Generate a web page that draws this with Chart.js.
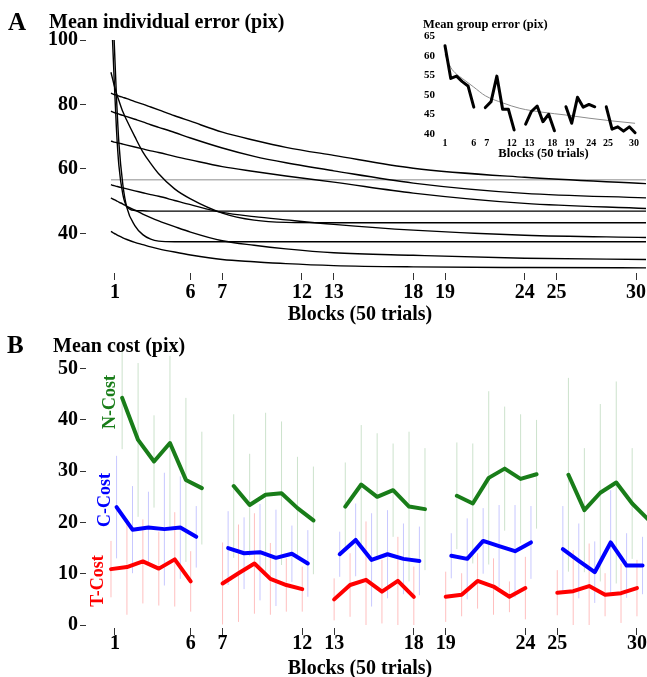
<!DOCTYPE html>
<html>
<head>
<meta charset="utf-8">
<script src="https://cdn.jsdelivr.net/npm/chart.js@4.4.0/dist/chart.umd.min.js"></script>
<style>
  html, body { margin: 0; padding: 0; background: #fff; overflow: hidden; }
  #page { position: relative; width: 647px; height: 677px; overflow: hidden;
          font-family: 'Liberation Serif', 'Times New Roman', serif; font-weight: bold; color: #000; }
  canvas { position: absolute; }
  .txt { position: absolute; line-height: 1; white-space: nowrap; }
  .mid { transform: translateX(-50%); }
  .rot { position: absolute; line-height: 1; white-space: nowrap; font-size: 18px;
         transform: translate(-50%, -50%) rotate(-90deg); }
</style>
</head>
<body>
<div id="page">
  <canvas id="panelA" width="647" height="325" style="left:0;top:0"></canvas>
  <canvas id="inset" width="227" height="161" style="left:420px;top:0"></canvas>
  <canvas id="panelB" width="647" height="347" style="left:0;top:330px"></canvas>

  <div class="txt" style="left:8px;top:9px;font-size:25px">A</div>
  <div class="txt" style="left:49px;top:11px;font-size:20px">Mean individual error (pix)</div>
  <div class="txt" style="left:423px;top:18px;font-size:12.5px">Mean group error (pix)</div>
  <div class="txt mid" style="left:360px;top:303px;font-size:20px">Blocks (50 trials)</div>
  <div class="txt" style="left:7px;top:332px;font-size:25px">B</div>
  <div class="txt" style="left:53px;top:335px;font-size:20px">Mean cost (pix)</div>
  <div class="txt mid" style="left:360px;top:657px;font-size:20px">Blocks (50 trials)</div>
  <div class="rot" style="left:109px;top:402px;color:rgb(25,125,25)">N-Cost</div>
  <div class="rot" style="left:104px;top:500px;color:#0000ff">C-Cost</div>
  <div class="rot" style="left:97px;top:581px;color:#ff0000">T-Cost</div>
</div>

<script>
Chart.defaults.font.family = "'Liberation Serif', 'Times New Roman', serif";
Chart.defaults.font.weight = 'bold';
Chart.defaults.color = '#000';

// x axis: block numbers and where their ticks sit (one empty block between sessions)
const tickLabels = [1, 6, 7, 12, 13, 18, 19, 24, 25, 30];
const tickPos = [1.25, 6, 8, 13, 15, 20, 22, 27, 29, 34];
const insetTickPos = [1, 6, 8.25, 12.6, 15.65, 19.6, 22.6, 26.4, 29.3, 33.8];

// panel A - individual fitted curves, read at these x positions
const curvePos = [1, 1.1, 1.2, 1.35, 1.5, 1.75, 2, 2.5, 3, 3.5, 4, 5, 6, 8, 10, 12, 15, 20, 27, 34.7];
const fitA = [83.5, 83.3, 83.1, 82.9, 82.6, 82.2, 81.8, 80.9, 80.1, 79.2, 78.3, 76.5, 74.8, 71.4, 68.9, 66.7, 64.2, 60.2, 57.4, 55.4];
const fitB = [77.9, 77.7, 77.5, 77.3, 77.0, 76.6, 76.2, 75.4, 74.6, 73.7, 72.9, 71.3, 69.6, 66.5, 63.9, 61.9, 59.4, 55.6, 52.4, 51.0];
const fitC = [68.6, 68.5, 68.3, 68.2, 68.0, 67.7, 67.4, 66.8, 66.2, 65.6, 65.1, 63.9, 62.8, 60.7, 59.2, 57.8, 55.9, 52.5, 49.3, 47.7];
const fitD = [55.1, 54.9, 54.8, 54.6, 54.4, 54.1, 53.8, 53.2, 52.6, 52.0, 51.5, 50.2, 48.9, 46.5, 45.2, 44.2, 42.8, 41.0, 39.4, 38.7];
const fitE = [51.0, 50.7, 50.5, 50.1, 49.7, 49.1, 48.4, 47.2, 46.0, 44.9, 43.9, 42.1, 40.4, 37.7, 36.3, 35.2, 34.0, 33.2, 32.3, 31.9];
const fitF = [40.6, 40.3, 40.0, 39.6, 39.2, 38.6, 38.1, 37.2, 36.5, 35.8, 35.2, 34.2, 33.3, 31.9, 31.2, 30.6, 30.0, 29.6, 29.4, 29.3];
const fitG = [90.0, 88.0, 86.0, 83.4, 81.2, 77.7, 75.0, 70.0, 65.3, 61.7, 58.5, 53.8, 50.7, 46.3, 44.1, 43.4, 43.3, 43.3, 43.3, 43.3];
const fitH = [null, 100, 88, 72, 61, 52, 48.3, 47.1, 47.0, 46.9, 46.9, 46.9, 46.9, 46.9, 46.9, 46.9, 46.9, 46.9, 46.9, 46.9];
const fitI = [null, null, 100, 82, 68, 55, 48, 42.4, 39.6, 38.2, 37.6, 37.4, 37.4, 37.4, 37.4, 37.4, 37.4, 37.4, 37.4, 37.4];
const overallMean = 56.6;

// inset - group error per block and its fit
const groupError = [62.5, 54.2, 54.8, 53.4, 52.3, 46.9,
                    46.8, 48.3, 54.8, 46.4, 46.4, 41.1,
                    42.6, 45.8, 47.2, 43.2, 45.1, 40.9,
                    47.0, 42.8, 49.4, 46.9, 47.6, 47.0,
                    47.0, 41.3, 41.9, 40.8, 41.9, 40.4];
const groupFitPos = [1, 2, 3, 4, 6, 8, 11, 14, 18, 22, 26, 30, 34];
const groupFit = [60.3, 57.0, 55.3, 54.2, 52.0, 49.8, 48.0, 46.6, 45.6, 44.9, 44.1, 43.4, 42.8];

// panel B - mean cost per block and spread
const tCost = [10.9, 11.3, 12.4, 11.0, 12.8, 8.5, 8.1, 10.1, 12.0, 9.0, 7.8, 7.0,
               5.0, 7.8, 8.8, 6.5, 8.6, 5.5, 5.5, 5.9, 8.6, 7.5, 5.5, 7.2,
               6.3, 6.6, 7.6, 5.9, 6.2, 7.2];
const cCost = [23.0, 18.6, 19.0, 18.7, 19.0, 17.2, 15.0, 14.0, 14.2, 13.1, 13.9, 12.0,
               13.8, 16.6, 12.7, 13.8, 12.9, 12.5, 13.5, 12.9, 16.4, 15.4, 14.4, 16.1,
               14.8, 12.5, 10.3, 16.1, 11.6, 11.6];
const nCost = [44.3, 36.1, 31.9, 35.5, 28.3, 26.7, 27.1, 23.4, 25.4, 25.7, 22.8, 20.4,
               23.1, 27.4, 25.0, 26.3, 23.1, 22.6, 25.2, 23.7, 28.7, 30.5, 28.5, 29.4,
               29.3, 22.4, 25.8, 27.8, 23.7, 20.6];
const tSd = [5.5, 9.3, 8.2, 7.2, 9.2, 5.9, 8, 9.5, 9.8, 7, 5.2, 4.4,
             4.1, 6.2, 11.4, 6.2, 8.6, 5.9, 4.9, 4.2, 5.4, 5.5, 3, 6.1,
             4.4, 8, 8.3, 4.2, 5.8, 5.5];
const cSd = [10, 8.5, 7, 11, 10, 6, 7.2, 7, 9.4, 9.4, 5.5, 6.5,
             4.4, 7.1, 9.1, 8.6, 6.9, 6.7, 4.4, 7.9, 6.4, 8, 9, 7.1,
             8.4, 7.3, 6, 10.2, 6.3, 5.6];
const nSd = [10, 15, 9, 17, 16, 11, 14, 10, 16, 14, 10, 10.5,
             8.6, 11.6, 12.4, 9.1, 14.6, 11.9, 10.4, 11.7, 16.9, 12.1, 12.6, 10.6,
             18.9, 12.1, 17.3, 19.7, 10.8, 10];

const GREEN = 'rgb(25,125,25)';

// block index -> x position, sessions of 6 blocks separated by one empty slot
function blockX(i) { return i + 1 + Math.floor(i / 6); }

function sessionLine(vals, shift) {
  const pts = [];
  vals.forEach((v, i) => {
    if (i > 0 && i % 6 === 0) pts.push({x: blockX(i) - 1 + shift, y: null});
    pts.push({x: blockX(i) + shift, y: v});
  });
  return pts;
}

function spreadBars(vals, sds, shift) {
  const pts = [];
  vals.forEach((v, i) => {
    const x = blockX(i) + shift;
    pts.push({x: x, y: Math.max(0, v - sds[i])}, {x: x, y: v + sds[i]}, {x: x, y: null});
  });
  return pts;
}

function xAxis(min, max, positions, size, tickLen, pad, height, title) {
  return {
    type: 'linear', min: min, max: max,
    border: {display: false},
    grid: {drawOnChartArea: false, drawTicks: tickLen > 0, tickLength: tickLen, tickColor: '#333', tickWidth: 1},
    ticks: {autoSkip: false, maxRotation: 0, padding: pad, font: {size: size},
            callback: (v, i) => tickLabels[i]},
    afterBuildTicks: s => { s.ticks = positions.map(v => ({value: v})); },
    afterFit: s => { s.height = height; },
    title: {display: !!title, text: 'Blocks (50 trials)', font: {size: title || 12}, padding: 0}
  };
}

function yAxis(min, max, values, size, tickLen, pad, width) {
  return {
    type: 'linear', min: min, max: max,
    border: {display: false},
    grid: {drawOnChartArea: false, drawTicks: tickLen > 0, tickLength: tickLen, tickColor: '#333', tickWidth: 1},
    ticks: {padding: pad, font: {size: size}},
    afterBuildTicks: s => { s.ticks = values.map(v => ({value: v})); },
    afterFit: s => { s.width = width; }
  };
}

const common = {
  responsive: false,
  animation: false,
  devicePixelRatio: 1,
  plugins: {legend: {display: false}, tooltip: {enabled: false}},
  elements: {point: {radius: 0}}
};

// Panel A
const curveSets = [fitA, fitB, fitC, fitD, fitE, fitF, fitG, fitH, fitI].map(vals => ({
  data: vals.map((v, i) => ({x: curvePos[i], y: v})),
  borderColor: '#000', borderWidth: 1.4, cubicInterpolationMode: 'monotone', order: 1
}));
curveSets.push({
  data: [{x: curvePos[0], y: overallMean}, {x: curvePos[curvePos.length - 1], y: overallMean}],
  borderColor: '#b3b3b3', borderWidth: 1.5, order: 2
});

new Chart(document.getElementById('panelA'), {
  type: 'line',
  data: {datasets: curveSets},
  options: Object.assign({}, common, {
    layout: {padding: {top: 40, left: 0, right: 0, bottom: 0}},
    scales: {
      x: xAxis(-0.568, 34.63, tickPos, 20, 7, 1, 52, 0),
      y: yAxis(27.7, 100, [40, 60, 80, 100], 20, 6, 2, 86)
    }
  })
});

// Inset
new Chart(document.getElementById('inset'), {
  type: 'line',
  data: {datasets: [
    {data: sessionLine(groupError, 0), borderColor: '#000', borderWidth: 3,
     borderJoinStyle: 'round', borderCapStyle: 'round', order: 1},
    {data: groupFitPos.map((p, i) => ({x: p, y: groupFit[i]})), borderColor: '#8c8c8c',
     borderWidth: 1, cubicInterpolationMode: 'monotone', order: 2}
  ]},
  options: Object.assign({}, common, {
    layout: {padding: {top: 34, left: 0, right: 0, bottom: 0}},
    scales: {
      x: xAxis(0.132, 36.07, insetTickPos, 10, 0, 1, 24.7, 12.5),
      y: yAxis(39.49, 65.51, [40, 45, 50, 55, 60, 65], 11, 0, 5, 20)
    }
  })
});

// Panel B
const lineStyle = {borderWidth: 4, borderJoinStyle: 'round', borderCapStyle: 'round', order: 1};
const barStyle = {borderWidth: 1, order: 2};

new Chart(document.getElementById('panelB'), {
  type: 'line',
  data: {datasets: [
    Object.assign({data: sessionLine(nCost, 0.7), borderColor: GREEN}, lineStyle),
    Object.assign({data: sessionLine(cCost, 0.35), borderColor: '#0000ff'}, lineStyle),
    Object.assign({data: sessionLine(tCost, 0), borderColor: '#ff0000'}, lineStyle),
    Object.assign({data: spreadBars(nCost, nSd, 0.7), borderColor: 'rgba(25,125,25,0.22)'}, barStyle),
    Object.assign({data: spreadBars(cCost, cSd, 0.35), borderColor: 'rgba(0,0,255,0.22)'}, barStyle),
    Object.assign({data: spreadBars(tCost, tSd, 0), borderColor: 'rgba(255,0,0,0.25)'}, barStyle)
  ]},
  options: Object.assign({}, common, {
    layout: {padding: {top: 20, left: 0, right: 0, bottom: 0}},
    scales: {
      x: xAxis(-0.568, 34.63, tickPos, 20, 7, -3, 49, 0),
      y: yAxis(-0.585, 53.64, [0, 10, 20, 30, 40, 50], 20, 6, 2, 86)
    }
  })
});
</script>
</body>
</html>
